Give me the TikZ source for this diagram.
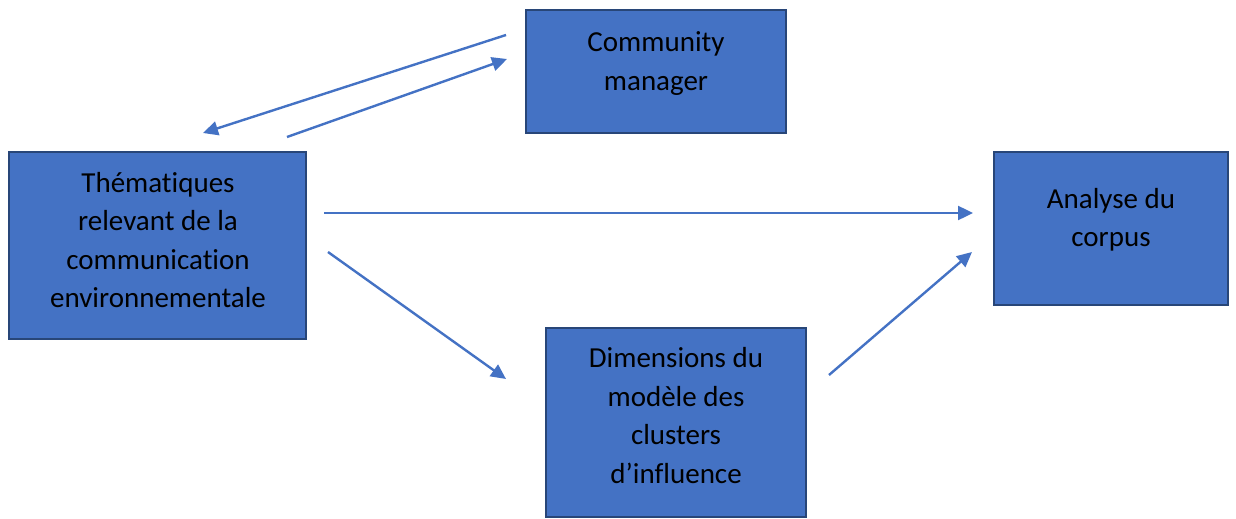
\documentclass[tikz,border=0pt]{standalone}
\usepackage{fontspec}
\setmainfont{Carlito}[Ligatures=NoCommon]
\usetikzlibrary{arrows.meta}
\definecolor{boxfill}{HTML}{4472C4}
\definecolor{boxedge}{HTML}{284678}
\definecolor{flow}{HTML}{4472C4}
\begin{document}
\begin{tikzpicture}[x=1pt,y=-1pt,
  stage/.style={draw=boxedge, line width=2.6pt, fill=boxfill, inner sep=0pt, outer sep=0pt},
  caption/.style={align=center, inner sep=0pt, text=black,
    font=\fontsize{29}{38.5}\selectfont,
    execute at begin node=\strut, execute at end node=\strut},
  flowarrow/.style={draw=flow, line width=2.4pt, -{Triangle[length=15pt,width=14pt]}}]
  \useasboundingbox (0,0) rectangle (1236,519);

  % boxes
  \node[stage, minimum width=260pt, minimum height=123pt] (cm) at (656,71.5) {};
  \node[stage, minimum width=297pt, minimum height=187pt] (them) at (157.5,245.5) {};
  \node[stage, minimum width=234pt, minimum height=153pt] (corpus) at (1111,228.5) {};
  \node[stage, minimum width=260pt, minimum height=189pt] (dim) at (676,422.5) {};

  % labels
  \node[caption] (cm-t) at (656,67) {Community\\manager};
  \node[caption] (them-t) at (158,245.7) {Thématiques\\relevant de la\\communication\\environnementale};
  \node[caption] (corpus-t) at (1111,223.3) {Analyse du\\corpus};
  \node[caption] (dim-t) at (676,421) {Dimensions du\\modèle des\\clusters\\d’influence};

  % arrow end points
  \coordinate (cm-out) at (506,35);
  \coordinate (them-in) at (203,133);
  \coordinate (them-out) at (287,137);
  \coordinate (cm-in) at (507,59);
  \coordinate (them-right) at (324,213);
  \coordinate (corpus-in) at (973,213);
  \coordinate (them-down) at (328,252);
  \coordinate (dim-in) at (506,379);
  \coordinate (dim-out) at (829,375);
  \coordinate (corpus-low) at (972,252);

  % connectors
  \draw[flowarrow] (cm-out) -- (them-in);
  \draw[flowarrow] (them-out) -- (cm-in);
  \draw[flowarrow] (them-right) -- (corpus-in);
  \draw[flowarrow] (them-down) -- (dim-in);
  \draw[flowarrow] (dim-out) -- (corpus-low);
\end{tikzpicture}
\end{document}
